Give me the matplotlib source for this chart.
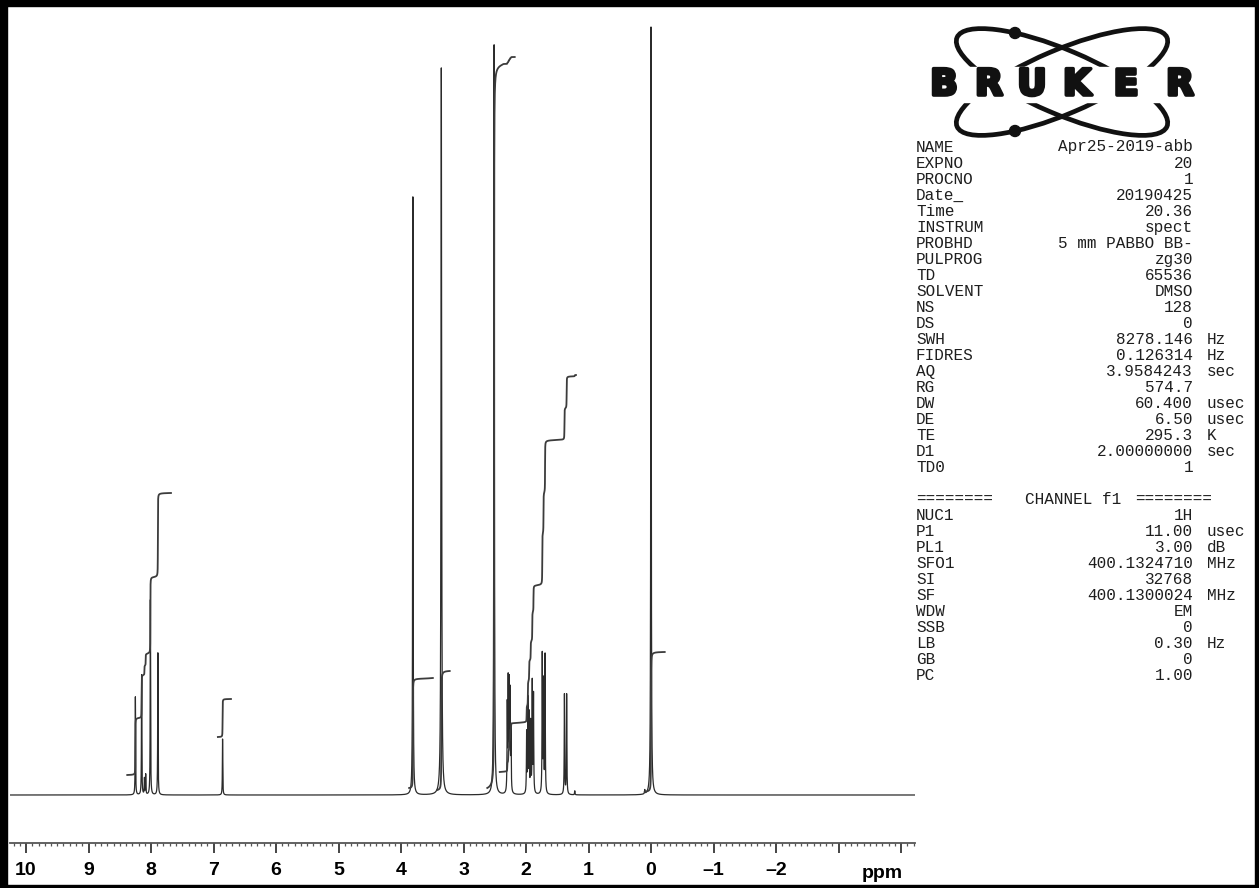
import matplotlib
matplotlib.use('Agg')
import matplotlib.pyplot as plt
import matplotlib.patheffects as pe
import numpy as np
from matplotlib.patches import Ellipse, Circle, Rectangle
from matplotlib.ticker import MultipleLocator, FixedLocator, FixedFormatter

# Peak list: position (ppm), height (plot units), half width (ppm)
peak_ppm = [8.250, 8.150, 8.105, 8.085, 8.010, 7.890,
            6.855,
            3.810, 3.355, 2.510,
            2.300, 2.285, 2.270, 2.255, 2.240,
            1.990, 1.970, 1.950, 1.925, 1.900, 1.880,
            1.740, 1.720, 1.695,
            1.385, 1.350,
            1.220, 0.100, 0.000]
peak_height = [98, 120, 16, 20, 195, 142,
               56,
               598, 727, 750,
               85, 107, 104, 96, 62,
               60, 93, 78, 70, 110, 98,
               138, 110, 138,
               100, 100,
               4, 4, 768]
peak_hwhm = [0.0035] * 6 + [0.0035] + [0.004, 0.006, 0.005] + [0.004] * 16 + [0.004, 0.004, 0.0045]

# Integral traces: breakpoints (ppm) and trace levels at the breakpoints
int_bounds = [
    [8.38, 8.20, 8.12, 8.04, 7.95, 7.68],
    [6.93, 6.72],
    [3.87, 3.49],
    [3.42, 3.22],
    [2.62, 2.36, 2.18],
    [2.42, 2.16, 1.80, 1.52, 1.20],
    [0.10, -0.22],
]
int_levels = [
    [20, 77, 120, 142, 218, 302],
    [58, 96],
    [7, 117],
    [5, 124],
    [7, 731, 738],
    [23, 72, 210, 355, 420],
    [3, 143],
]

# Axis ticks
tick_values = [10, 9, 8, 7, 6, 5, 4, 3, 2, 1, 0, -1, -2, -3, -4]
tick_labels = ['10', '9', '8', '7', '6', '5', '4', '3', '2', '1', '0',
               '\u20131', '\u20132', '', '']

# Acquisition / processing parameters (name, value, unit)
param_names = ['NAME', 'EXPNO', 'PROCNO', 'Date_', 'Time', 'INSTRUM', 'PROBHD',
               'PULPROG', 'TD', 'SOLVENT', 'NS', 'DS', 'SWH', 'FIDRES', 'AQ',
               'RG', 'DW', 'DE', 'TE', 'D1', 'TD0']
param_values = ['Apr25-2019-abb', '20', '1', '20190425', '20.36', 'spect',
                '5 mm PABBO BB-', 'zg30', '65536', 'DMSO', '128', '0',
                '8278.146', '0.126314', '3.9584243', '574.7', '60.400', '6.50',
                '295.3', '2.00000000', '1']
param_units = ['', '', '', '', '', '', '', '', '', '', '', '', 'Hz', 'Hz', 'sec',
               '', 'usec', 'usec', 'K', 'sec', '']

chan_names = ['NUC1', 'P1', 'PL1', 'SFO1', 'SI', 'SF', 'WDW', 'SSB', 'LB', 'GB', 'PC']
chan_values = ['1H', '11.00', '3.00', '400.1324710', '32768', '400.1300024',
               'EM', '0', '0.30', '0', '1.00']
chan_units = ['', 'usec', 'dB', 'MHz', '', 'MHz', '', '', 'Hz', '', '']

W, H = 1259, 888
fig = plt.figure(figsize=(W / 100, H / 100), dpi=100)
fig.patch.set_facecolor('white')

# overlay in pixel coordinates for the logo, parameter list and frame
ov = fig.add_axes([0, 0, 1, 1])
ov.set_xlim(0, W)
ov.set_ylim(H, 0)
ov.axis('off')

# spectrum axes: x from pixel 10 to 915, ruler at pixel 843, baseline at 795
left_px, right_px, top_px, ruler_px, base_px = 10, 915, 20, 843, 795
ax = fig.add_axes([left_px / W, (H - ruler_px) / H,
                   (right_px - left_px) / W, (ruler_px - top_px) / H])
ax.patch.set_alpha(0)
ax.set_zorder(2)

ppm_per_px = 1 / 62.5
x_left = 10 + (26 - left_px) * ppm_per_px
x_right = 0 - (right_px - 651) * ppm_per_px
ppm = np.arange(x_left, x_right, -0.0005)

spec = np.zeros_like(ppm)
sharp = np.zeros_like(ppm)   # narrower copy, used only to shape the integral steps
for p, h, w in zip(peak_ppm, peak_height, peak_hwhm):
    spec += h / (1 + ((ppm - p) / w) ** 2)
    sharp += h / (1 + ((ppm - p) / (0.3 * w)) ** 2)

ax.plot(ppm, spec, color='#2b2b2b', lw=0.9)

# integral traces
for bounds, levels in zip(int_bounds, int_levels):
    xs, ys = [], []
    for k in range(len(bounds) - 1):
        m = (ppm <= bounds[k]) & (ppm >= bounds[k + 1])
        c = np.cumsum(sharp[m])
        c = c / c[-1]
        xs.append(ppm[m])
        ys.append(levels[k] + c * (levels[k + 1] - levels[k]))
    ax.plot(np.concatenate(xs), np.concatenate(ys), color='#3c3c3c', lw=1.3)

ax.set_xlim(x_left, x_right)
ax.set_ylim(-(ruler_px - base_px), base_px - top_px)
for s in ['top', 'left', 'right']:
    ax.spines[s].set_visible(False)
ax.spines['bottom'].set_color('#555555')
ax.spines['bottom'].set_linewidth(1.3)
ax.set_yticks([])
ax.xaxis.set_major_locator(FixedLocator(tick_values))
ax.xaxis.set_major_formatter(FixedFormatter(tick_labels))
ax.xaxis.set_minor_locator(MultipleLocator(0.1))
ax.tick_params(axis='x', which='major', length=7, width=1.4, color='#444444',
               pad=7, labelsize=14)
ax.tick_params(axis='x', which='minor', length=2.2, width=0.9, color='#555555')
for lab in ax.get_xticklabels():
    lab.set_fontfamily('Liberation Sans')
    lab.set_fontweight('bold')
ov.text(882, 873, 'ppm', ha='center', va='center', fontsize=14,
        fontweight='bold', family='Liberation Sans', color='black')

# Bruker logo
cx, cy = 1062, 82
for ang in (23, -23):
    ov.add_patch(Ellipse((cx, cy), 228, 64, angle=ang, fill=False,
                         lw=3.4, color='#111111', zorder=3))
for dy in (33, 131):
    ov.add_patch(Circle((1015, dy), 5.5, color='#111111', zorder=4))
ov.add_patch(Rectangle((912, 67), 300, 35, color='white', zorder=5))
for letter, lx in zip('BRUKER', [944, 989, 1032, 1077, 1126, 1180]):
    ov.text(lx, 85, letter, ha='center', va='center', fontsize=26,
            fontweight='bold', family='DejaVu Sans', color='#111111', zorder=6,
            path_effects=[pe.withStroke(linewidth=2.6, foreground='#111111')])

# parameter list
mono = 'Liberation Mono'
fs = 11.5
col_name, col_val, col_unit = 916, 1193, 1207
y0, dy = 147, 16.0
for i, (n, v, u) in enumerate(zip(param_names, param_values, param_units)):
    y = y0 + i * dy
    ov.text(col_name, y, n, ha='left', va='center', family=mono, fontsize=fs, color='#1e1e1e')
    ov.text(col_val, y, v, ha='right', va='center', family=mono, fontsize=fs, color='#1e1e1e')
    if u:
        ov.text(col_unit, y, u, ha='left', va='center', family=mono, fontsize=fs, color='#1e1e1e')
y = y0 + (len(param_names) + 1) * dy
ov.text(col_name, y, '========', ha='left', va='center', family=mono, fontsize=fs, color='#1e1e1e')
ov.text(1025, y, 'CHANNEL f1', ha='left', va='center', family=mono, fontsize=fs, color='#1e1e1e')
ov.text(1135, y, '========', ha='left', va='center', family=mono, fontsize=fs, color='#1e1e1e')
for j, (n, v, u) in enumerate(zip(chan_names, chan_values, chan_units)):
    y = y0 + (len(param_names) + 2 + j) * dy
    ov.text(col_name, y, n, ha='left', va='center', family=mono, fontsize=fs, color='#1e1e1e')
    ov.text(col_val, y, v, ha='right', va='center', family=mono, fontsize=fs, color='#1e1e1e')
    if u:
        ov.text(col_unit, y, u, ha='left', va='center', family=mono, fontsize=fs, color='#1e1e1e')

# scanned page frame
for x, yy, w, h in [(0, 0, 7, H), (0, 0, W, 6), (W - 4, 0, 4, H), (0, H - 3, W, 3)]:
    ov.add_patch(Rectangle((x, yy), w, h, color='black', zorder=10))

fig.savefig('out.png', dpi=100)
